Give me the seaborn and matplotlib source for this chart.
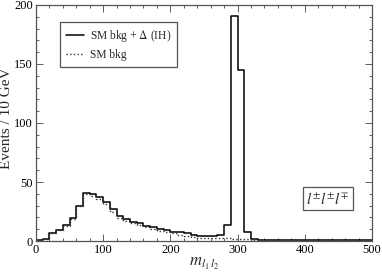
import numpy as np
import pandas as pd
import matplotlib
matplotlib.use('Agg')
import matplotlib.pyplot as plt
import seaborn as sns

# bin centres, 10 GeV bins from 0 to 500
centers = np.arange(5, 500, 10)

# SM bkg + Delta (IH)
signal = [0.5, 2, 7, 9.5, 13.5, 19.5, 30, 41, 39.5, 37,
          33, 27, 21, 18.5, 16.5, 15, 13, 11.5, 10, 9,
          8, 7.5, 6.5, 5, 4.5, 4.5, 4, 5, 14, 191,
          145, 8, 2, 1, 1, 0.5, 1, 1, 0.5, 0.5,
          1, 0.5, 0.5, 0.5, 1, 0.5, 0.5, 0.5, 0.5, 0.5]
# SM bkg only
bkg = [0.5, 2, 7, 9.5, 13, 19, 29.5, 40, 38, 35.5,
       31, 25, 19.5, 17, 15, 13.5, 11.5, 10, 8.5, 7.5,
       6.5, 5.5, 4.5, 3.5, 3, 3, 2.5, 2.5, 2.5, 2,
       1.5, 1.5, 1, 0.5, 0.5, 0.5, 0.5, 0.5, 0.5, 0.5,
       0.5, 0.5, 0.5, 0.5, 0.5, 0.5, 0.5, 0.5, 0.5, 0.5]

df = pd.DataFrame({'m': centers, 'sig': signal, 'bkg': bkg})

sns.set_style('ticks')
plt.rcParams['font.family'] = ['Liberation Serif', 'DejaVu Serif']
plt.rcParams['mathtext.fontset'] = 'stix'

fig = plt.figure(figsize=(3.82, 2.73), dpi=100)
ax = fig.add_axes([0.094, 0.117, 0.880, 0.865])

sns.histplot(data=df, x='m', weights='sig', binwidth=10, binrange=(0, 500),
             element='step', fill=False, color='black', linewidth=1.1, ax=ax)
sns.histplot(data=df, x='m', weights='bkg', binwidth=10, binrange=(0, 500),
             element='step', fill=False, color='#333333', linewidth=1.0,
             linestyle=':', ax=ax)

ax.set_xlim(0, 500)
ax.set_ylim(0, 200)
ax.set_xticks([0, 100, 200, 300, 400, 500])
ax.set_yticks([0, 50, 100, 150, 200])
ax.set_xticks(np.arange(0, 501, 20), minor=True)
ax.set_yticks(np.arange(0, 201, 10), minor=True)
ax.tick_params(which='both', direction='in', top=True, right=True, labelsize=9,
               width=0.6, colors='#444444', labelcolor='black', pad=2)
ax.tick_params(which='major', length=5)
ax.tick_params(which='minor', length=2.5)
for s in ax.spines.values():
    s.set_linewidth(0.9)
    s.set_color('#555555')

ax.set_xlabel(r'$m_{l_1\, l_2}$', fontsize=12, labelpad=0)
ax.set_ylabel('Events / 10 GeV', fontsize=11)
ax.yaxis.set_label_coords(-0.068, 0.52)

h1, = ax.plot([], [], color='black', lw=1.1)
h2, = ax.plot([], [], color='#333333', lw=1.0, ls=':')
leg = ax.legend([h1, h2], [r'SM bkg + $\Delta$ (IH)', 'SM bkg'],
                loc='upper left', bbox_to_anchor=(0.071, 0.928), fontsize=8.3,
                fancybox=False, framealpha=1, edgecolor='#555555',
                handlelength=1.6, handletextpad=0.5, borderpad=0.5,
                borderaxespad=0, labelspacing=0.45)
leg.get_frame().set_linewidth(0.9)

ax.text(0.934, 0.18, r'$l^{\pm}l^{\pm}l^{\mp}$', transform=ax.transAxes,
        ha='right', va='center', fontsize=11,
        bbox=dict(boxstyle='square,pad=0.2', facecolor='white',
                  edgecolor='#555555', linewidth=0.9))

fig.savefig('out.png', dpi=100)
